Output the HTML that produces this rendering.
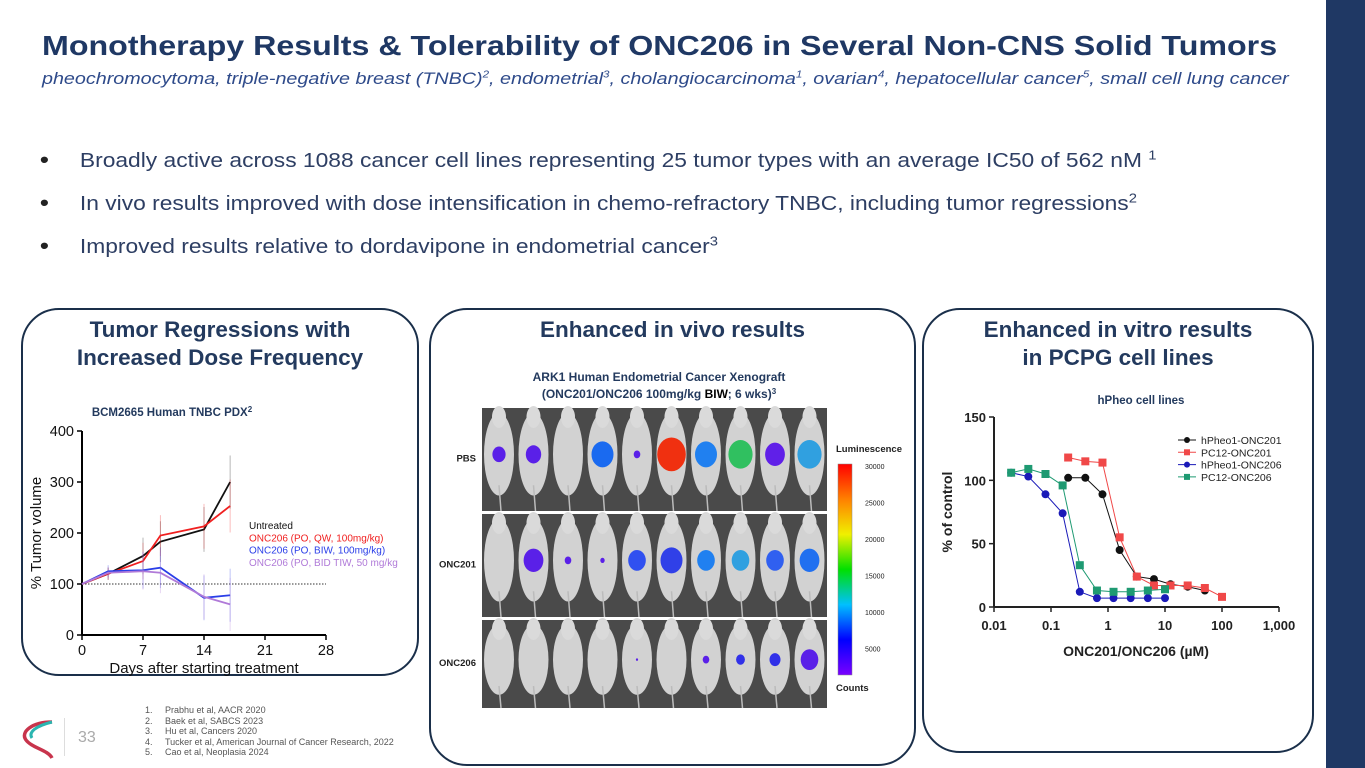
<!DOCTYPE html>
<html><head><meta charset="utf-8"><style>
body{margin:0;width:1365px;height:768px;background:#fff;position:relative;overflow:hidden;font-family:"Liberation Sans",Arial,sans-serif}
.abs{position:absolute}
.card{position:absolute;border:2.5px solid #1a2f4a;border-radius:38px;box-sizing:border-box;background:#fff}
.ct{position:absolute;text-align:center;font-weight:bold;color:#233a5e;font-size:22.5px;line-height:28px}
.bul{position:absolute;left:40px;font-size:20px;color:#2d3e63;transform:scaleX(1.14);transform-origin:0 0;white-space:nowrap}
.bul b{display:inline-block;width:35px;font-size:22px;color:#222}
.fn{position:absolute;left:145px;font-size:9px;color:#555;line-height:10.6px}
</style></head><body>
<div class="abs" style="left:1326px;top:0;width:39px;height:768px;background:#1f3864"></div>
<div class="abs" style="left:42px;top:30px;font-size:28px;font-weight:bold;color:#1f3864;white-space:nowrap;transform:scaleX(1.15);transform-origin:0 0">Monotherapy Results &amp; Tolerability of ONC206 in Several Non-CNS Solid Tumors</div>
<div class="abs" style="left:42px;top:69px;font-size:17px;font-style:italic;color:#2e4a8a;white-space:nowrap;transform:scaleX(1.16);transform-origin:0 0">pheochromocytoma, triple-negative breast (TNBC)<sup style="font-size:10px">2</sup>, endometrial<sup style="font-size:10px">3</sup>, cholangiocarcinoma<sup style="font-size:10px">1</sup>, ovarian<sup style="font-size:10px">4</sup>, hepatocellular cancer<sup style="font-size:10px">5</sup>, small cell lung cancer</div>
<div class="bul" style="top:147px"><b>•</b>Broadly active across 1088 cancer cell lines representing 25 tumor types with an average IC50 of 562 nM <sup style="font-size:13px">1</sup></div>
<div class="bul" style="top:190px"><b>•</b>In vivo results improved with dose intensification in chemo-refractory TNBC, including tumor regressions<sup style="font-size:13px">2</sup></div>
<div class="bul" style="top:233px"><b>•</b>Improved results relative to dordavipone in endometrial cancer<sup style="font-size:13px">3</sup></div>

<div class="card" style="left:21px;top:308px;width:398px;height:368px"></div>
<div class="card" style="left:429px;top:308px;width:487px;height:458px"></div>
<div class="card" style="left:922px;top:308px;width:392px;height:445px"></div>
<div class="ct" style="left:21px;top:316px;width:398px">Tumor Regressions with<br>Increased Dose Frequency</div>
<div class="ct" style="left:429px;top:316px;width:487px">Enhanced in vivo results</div>
<div class="ct" style="left:922px;top:316px;width:392px">Enhanced in vitro results<br>in PCPG cell lines</div>

<svg class="abs" style="left:0;top:0" width="1365" height="768" id="svg">
<text x="172" y="416" text-anchor="middle" font-size="11.5" font-weight="bold" fill="#233a5e">BCM2665 Human TNBC PDX<tspan font-size="8" dy="-4">2</tspan></text>
<text x="1141" y="404" text-anchor="middle" font-size="11.5" font-weight="bold" fill="#233a5e">hPheo cell lines</text>
<text x="659" y="381" text-anchor="middle" font-size="12" font-weight="bold" fill="#233a5e">ARK1 Human Endometrial Cancer Xenograft</text>
<text x="659" y="398" text-anchor="middle" font-size="12" font-weight="bold" fill="#233a5e">(ONC201/ONC206 100mg/kg <tspan fill="#000">BIW</tspan>; 6 wks)<tspan font-size="8" dy="-4">3</tspan></text>
<g id="g1"></g><g id="g2"></g><g id="g3"></g>
</svg>
<div class="fn" style="top:705px">1.&nbsp;&nbsp;&nbsp;&nbsp;&nbsp;Prabhu et al, AACR 2020<br>2.&nbsp;&nbsp;&nbsp;&nbsp;&nbsp;Baek et al, SABCS 2023<br>3.&nbsp;&nbsp;&nbsp;&nbsp;&nbsp;Hu et al, Cancers 2020<br>4.&nbsp;&nbsp;&nbsp;&nbsp;&nbsp;Tucker et al, American Journal of Cancer Research, 2022<br>5.&nbsp;&nbsp;&nbsp;&nbsp;&nbsp;Cao et al, Neoplasia 2024</div>
<div class="abs" style="left:78px;top:729px;font-size:16px;color:#aaa">33</div>
<div class="abs" style="left:64px;top:718px;width:1px;height:38px;background:#ddd"></div>
<svg class="abs" style="left:18px;top:718px" width="40" height="42">
<path d="M34 4 C14 4 2 14 8 22 C14 30 30 32 34 40" fill="none" stroke="#c8344c" stroke-width="3.5"/>
<path d="M34 4 C18 8 10 14 14 20" fill="none" stroke="#2ab5b0" stroke-width="3"/>
</svg>
<script>
const NS='http://www.w3.org/2000/svg';
function mk(p,t,a){const e=document.createElementNS(NS,t);for(const k in a)e.setAttribute(k,a[k]);p.appendChild(e);return e;}
// ---- TNBC chart data ----
const tDays=[0,3,7,9,14,17];
const tUntreated=[100,120,155,183,207,300];
const tQW=[100,120,145,195,213,253];
const tBIW=[100,125,127,132,73,78];
const tBID=[100,122,125,122,75,60];
const tErr=[0,15,45,50,55,65];
const tXTicks=[0,7,14,21,28];
const tYTicks=[0,100,200,300,400];
const tx=d=>82+d*(326-82)/28, ty=v=>635-v*(635-431)/400;
const g1=document.getElementById('g1');
let ln;
ln=mk(g1,'line',{x1:82,y1:635,x2:326,y2:635,stroke:'#000','stroke-width':2});

ln=mk(g1,'line',{x1:82,y1:431,x2:82,y2:635,stroke:'#000','stroke-width':2});

ln=mk(g1,'line',{x1:82,y1:ty(100),x2:326,y2:ty(100),stroke:'#333','stroke-width':1,'stroke-dasharray':'1.5,1.5'});

tXTicks.forEach(v=>{mk(g1,'line',{x1:tx(v),y1:635,x2:tx(v),y2:640,stroke:'#000','stroke-width':1.5});
 const t=mk(g1,'text',{x:tx(v),y:655,'text-anchor':'middle','font-size':14.5,fill:'#111'});t.textContent=v;
 });
tYTicks.forEach(v=>{mk(g1,'line',{x1:77,y1:ty(v),x2:82,y2:ty(v),stroke:'#000','stroke-width':1.5});
 const t=mk(g1,'text',{x:74,y:ty(v)+5,'text-anchor':'end','font-size':14.5,fill:'#111'});t.textContent=v;
 });
let tt=mk(g1,'text',{x:204,y:673,'text-anchor':'middle','font-size':15,fill:'#111'});tt.textContent='Days after starting treatment';

tt=mk(g1,'text',{x:0,y:0,'text-anchor':'middle','font-size':15,fill:'#111',transform:'translate(41,533) rotate(-90)'});tt.textContent='% Tumor volume';

const tSeries=[[tUntreated,'#111','Untreated'],[tQW,'#f02020','ONC206 (PO, QW, 100mg/kg)'],[tBIW,'#2a3ee8','ONC206 (PO, BIW, 100mg/kg)'],[tBID,'#b07ad8','ONC206 (PO, BID TIW, 50 mg/kg']];
tSeries.forEach((s,si)=>{
 s[0].forEach((v,i)=>{if(tErr[i])mk(g1,'line',{x1:tx(tDays[i]),y1:ty(v+tErr[i]*0.8),x2:tx(tDays[i]),y2:ty(Math.max(5,v-tErr[i]*0.8)),stroke:s[1],'stroke-opacity':0.3,'stroke-width':1});});
 const p=mk(g1,'polyline',{points:s[0].map((v,i)=>tx(tDays[i])+','+ty(v)).join(' '),fill:'none',stroke:s[1],'stroke-width':1.8});
 
 const l=mk(g1,'text',{x:249,y:529+si*12.3,'font-size':10,fill:s[1]});l.textContent=s[2];
 
});
// ---- Pheo chart data ----
const pX201=[0.2,0.4,0.8,1.6,3.2,6.4,12.5,25,50];
const pBlack=[102,102,89,45,24,22,18,16,13];
const pXRed=[0.2,0.4,0.8,1.6,3.2,6.4,12.5,25,50,100];
const pRed=[118,115,114,55,24,17,17,17,15,8];
const pX206=[0.02,0.04,0.08,0.16,0.32,0.64,1.25,2.5,5,10];
const pBlue=[106,103,89,74,12,7,7,7,7,7];
const pGreen=[106,109,105,96,33,13,12,12,13,14];
const pXTicks=[0.01,0.1,1,10,100,1000];
const pXLabels=['0.01','0.1','1','10','100','1,000'];
const pYTicks=[0,50,100,150];
const px=v=>994+(Math.log10(v)+2)*57, py=v=>607-v*(607-417)/150;
const g2=document.getElementById('g2');
ln=mk(g2,'line',{x1:994,y1:607,x2:1279,y2:607,stroke:'#222','stroke-width':2});

ln=mk(g2,'line',{x1:994,y1:417,x2:994,y2:607,stroke:'#222','stroke-width':2});

pXTicks.forEach((v,i)=>{mk(g2,'line',{x1:px(v),y1:607,x2:px(v),y2:612,stroke:'#222','stroke-width':1.5});
 const t=mk(g2,'text',{x:px(v),y:630,'text-anchor':'middle','font-size':13,'font-weight':'bold',fill:'#222'});t.textContent=pXLabels[i];
 });
pYTicks.forEach(v=>{mk(g2,'line',{x1:989,y1:py(v),x2:994,y2:py(v),stroke:'#222','stroke-width':1.5});
 const t=mk(g2,'text',{x:986,y:py(v)+5,'text-anchor':'end','font-size':13,'font-weight':'bold',fill:'#222'});t.textContent=v;
 });
tt=mk(g2,'text',{x:1136,y:656,'text-anchor':'middle','font-size':14,'font-weight':'bold',fill:'#222'});tt.textContent='ONC201/ONC206 (µM)';

tt=mk(g2,'text',{x:0,y:0,'text-anchor':'middle','font-size':14,'font-weight':'bold',fill:'#222',transform:'translate(952,512) rotate(-90)'});tt.textContent='% of control';

const pSeries=[[pX201,pBlack,'#111','c','hPheo1-ONC201'],[pXRed,pRed,'#f04848','s','PC12-ONC201'],[pX206,pBlue,'#1a1ab8','c','hPheo1-ONC206'],[pX206,pGreen,'#1e9a72','s','PC12-ONC206']];
pSeries.forEach((s,si)=>{
 const p=mk(g2,'polyline',{points:s[1].map((v,i)=>px(s[0][i])+','+py(v)).join(' '),fill:'none',stroke:s[2],'stroke-width':1});
 
 s[1].forEach((v,i)=>{const m=s[3]=='c'?mk(g2,'circle',{cx:px(s[0][i]),cy:py(v),r:4,fill:s[2]}):mk(g2,'rect',{x:px(s[0][i])-4,y:py(v)-4,width:8,height:8,fill:s[2]});
  });
 const ly=440+si*12.3;
 mk(g2,'line',{x1:1178,y1:ly,x2:1196,y2:ly,stroke:s[2],'stroke-width':1});
 if(s[3]=='c')mk(g2,'circle',{cx:1187,cy:ly,r:3,fill:s[2]});else mk(g2,'rect',{x:1184,y:ly-3,width:6,height:6,fill:s[2]});
 const l=mk(g2,'text',{x:1201,y:ly+4,'font-size':10.5,fill:'#222'});l.textContent=s[4];
 
});
// ---- Xenograft image (illustrative) ----
const g3=document.getElementById('g3');
const rows=[[408,103,'PBS'],[514,103,'ONC201'],[620,88,'ONC206']];
const blobs=[[[0.6,'#5a20e8'],[0.7,'#5a20e8'],[0,''],[1,'#1a6af0'],[0.3,'#5a20e8'],[1.3,'#f03010'],[1,'#2080f0'],[1.1,'#30c060'],[0.9,'#6020e8'],[1.1,'#30a0e0']],
 [[0,''],[0.9,'#5a20e8'],[0.3,'#5a20e8'],[0.2,'#5a20e8'],[0.8,'#3050f0'],[1,'#3040e8'],[0.8,'#2080f0'],[0.8,'#30a0e0'],[0.8,'#3060f0'],[0.9,'#2070f0']],
 [[0,''],[0,''],[0,''],[0,''],[0.1,'#5a20e8'],[0,''],[0.3,'#5a20e8'],[0.4,'#3030e8'],[0.5,'#3030e8'],[0.8,'#5a20e8']]];
rows.forEach((r,ri)=>{
 const bg=mk(g3,'rect',{x:482,y:r[0],width:345,height:r[1],fill:'#4a4a4a'});
 
 for(let i=0;i<10;i++){const cx=499+i*34.5;
  mk(g3,'ellipse',{cx:cx,cy:r[0]+r[1]*0.45,rx:15,ry:r[1]*0.4,fill:'#d2d2d2'});
  mk(g3,'ellipse',{cx:cx,cy:r[0]+9,rx:7,ry:11,fill:'#dadada'});
  mk(g3,'line',{x1:cx,y1:r[0]+r[1]*0.75,x2:cx+2,y2:r[0]+r[1],stroke:'#bbb','stroke-width':1.5});
  const b=blobs[ri][i];if(b[0]>0)mk(g3,'ellipse',{cx:cx,cy:r[0]+r[1]*0.45,rx:11*b[0],ry:13*b[0],fill:b[1]});}
 const t=mk(g3,'text',{x:476,y:r[0]+r[1]*0.52,'text-anchor':'end','font-size':9.5,'font-weight':'bold',fill:'#222'});t.textContent=r[2];
 
});
const gr=mk(g3,'linearGradient',{id:'lum',x1:0,y1:1,x2:0,y2:0});
['#7a00ff','#0000ff','#00c0ff','#00e000','#f0f000','#ff8000','#ff0000'].forEach((c,i)=>mk(gr,'stop',{offset:i/6,'stop-color':c}));
const cb=mk(g3,'rect',{x:838,y:464,width:14,height:211,fill:'url(#lum)',stroke:'#888','stroke-width':0.5});

const cbTicks=[30000,25000,20000,15000,10000,5000];
cbTicks.forEach((v,i)=>{const t=mk(g3,'text',{x:865,y:469+i*36.5,'font-size':7,fill:'#222'});t.textContent=v;
 });
tt=mk(g3,'text',{x:836,y:452,'font-size':9.5,'font-weight':'bold',fill:'#222'});tt.textContent='Luminescence';

tt=mk(g3,'text',{x:836,y:691,'font-size':9.5,'font-weight':'bold',fill:'#222'});tt.textContent='Counts';

</script>
</body></html>
